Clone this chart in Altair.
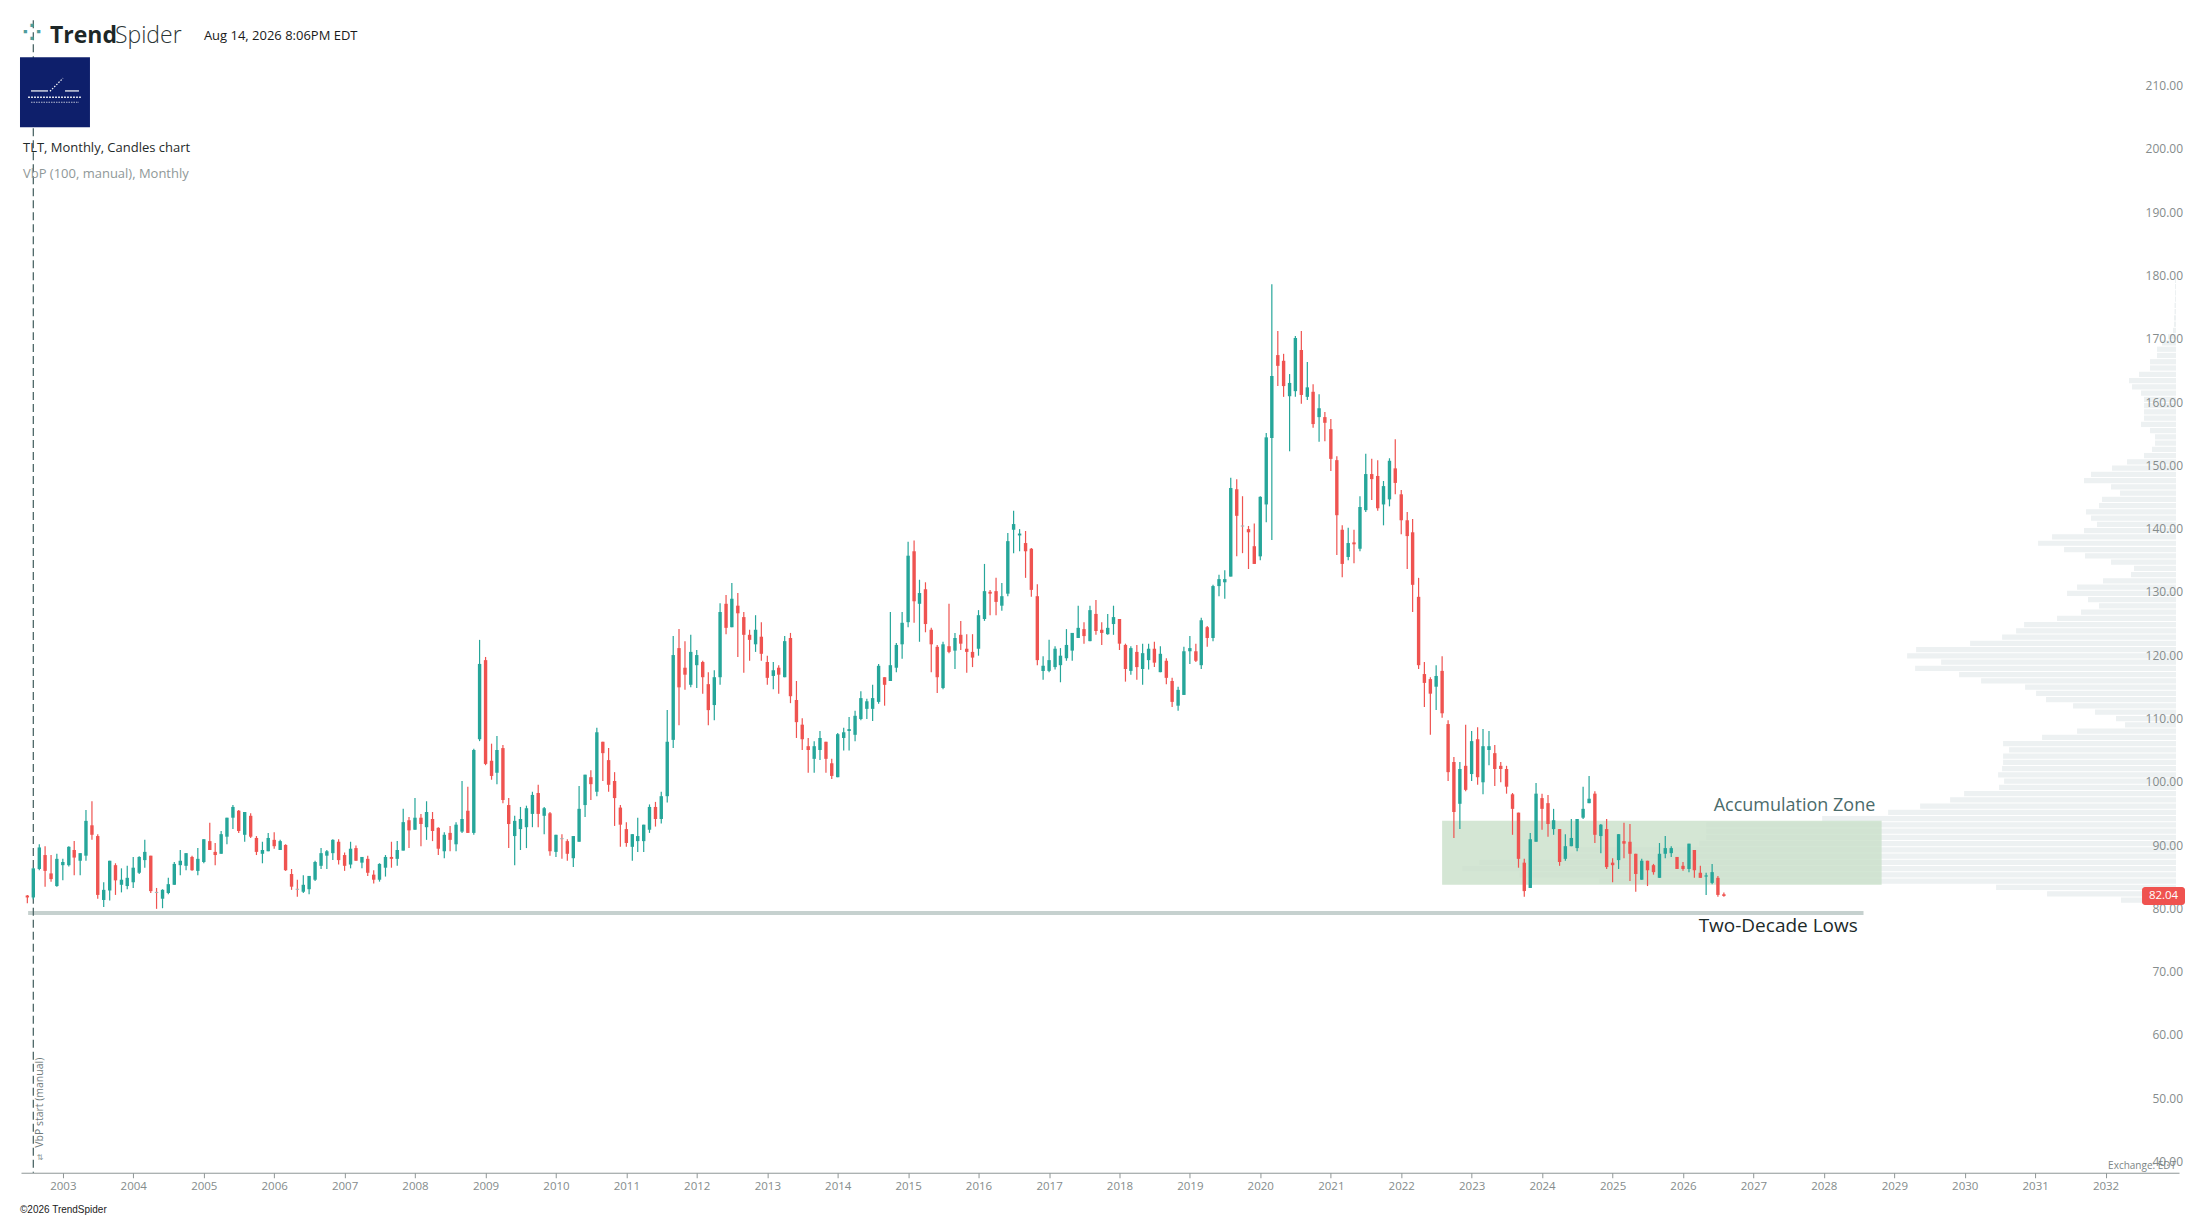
import altair as alt
import pandas as pd

# ---------------- data ----------------
start_month = "2002-07-01"   # first monthly candle (TLT, monthly)

opens = [
    82.1, 81.8, 86.3, 88.5, 85.6, 83.6,
    86.9, 86.9, 89.3, 87.6, 88.4, 93.2, 91.5, 81.4, 82.9, 86.9, 83.8, 83.6,
    84.2, 85.7, 87.7, 88.4, 82.5, 81.6, 82.5, 83.8, 86.9, 86.8, 88.2, 86.0,
    87.4, 90.7, 89.0, 88.7, 91.4, 94.4, 95.5, 91.7, 94.7, 91.2, 88.7, 89.1,
    90.9, 89.3, 90.1, 85.5, 83.0, 82.7, 83.1, 84.6, 86.8, 88.4, 88.8, 90.6,
    88.5, 87.0, 89.6, 87.3, 87.9, 85.4, 84.6, 86.5, 88.2, 87.9, 89.2, 94.0,
    92.5, 94.4, 92.9, 94.2, 92.8, 89.1, 92.0, 90.2, 92.2, 95.5, 92.0, 106.8,
    119.3, 103.4, 101.5, 105.4, 96.4, 91.5, 92.6, 92.9, 95.0, 98.3, 94.7, 95.1,
    89.0, 91.0, 90.7, 88.0, 90.6, 96.4, 100.8, 98.5, 106.4, 103.5, 100.2, 96.0,
    92.6, 89.8, 90.7, 90.7, 92.5, 96.1, 94.2, 97.8, 106.7, 121.2, 118.1, 115.4,
    118.5, 119.0, 115.5, 112.2, 116.6, 128.2, 124.5, 127.9, 126.1, 123.3, 121.8, 123.0,
    119.0, 116.8, 118.1, 116.6, 122.8, 113.0, 109.1, 105.7, 103.7, 105.1, 106.4, 103.0,
    100.8, 107.0, 108.1, 107.5, 110.0, 111.6, 111.6, 112.7, 116.6, 116.0, 118.1, 121.8,
    125.3, 136.5, 128.2, 130.5, 124.1, 121.4, 114.9, 121.5, 120.8, 123.3, 121.1, 120.6,
    121.1, 125.8, 130.1, 130.2, 127.9, 129.8, 139.9, 139.0, 137.8, 136.9, 129.4, 117.6,
    117.6, 118.2, 118.5, 119.6, 120.8, 122.8, 124.2, 122.3, 126.6, 124.1, 123.4, 125.0,
    125.8, 121.7, 117.6, 120.6, 117.9, 119.3, 121.1, 117.4, 119.2, 116.0, 112.1, 113.8,
    120.7, 120.7, 118.5, 124.5, 122.8, 131.0, 131.6, 132.5, 146.3, 140.4, 140.0, 137.3,
    135.7, 143.9, 154.4, 167.5, 166.6, 161.0, 161.8, 168.3, 160.9, 161.7, 157.7, 157.7,
    155.8, 150.9, 139.9, 135.6, 137.9, 136.9, 143.0, 148.7, 148.4, 143.9, 144.7, 149.6,
    145.5, 141.4, 139.5, 129.3, 117.1, 116.3, 115.1, 117.6, 109.2, 103.2, 96.6, 102.6,
    101.3, 106.8, 100.0, 105.1, 104.6, 102.6, 102.1, 98.1, 95.2, 87.3, 83.3, 90.6,
    97.5, 96.7, 92.6, 92.6, 87.9, 89.9, 89.6, 94.4, 96.7, 98.2, 91.5, 92.6,
    87.3, 87.7, 90.7, 90.6, 88.7, 84.6, 87.6, 86.9, 84.9, 88.7, 88.8, 88.2,
    86.8, 86.3, 89.3, 85.7, 85.1, 84.1, 84.9, 82.3,
]
highs = [
    82.2, 86.5, 90.2, 89.9, 88.5, 88.7,
    87.9, 89.9, 90.7, 88.8, 95.6, 97.0, 91.8, 84.2, 87.6, 87.2, 86.4, 86.8,
    88.2, 88.3, 90.9, 88.4, 83.3, 83.1, 84.9, 87.4, 89.3, 88.8, 88.4, 89.6,
    91.0, 93.6, 90.4, 92.3, 94.4, 96.4, 95.6, 95.3, 95.1, 91.5, 90.6, 92.0,
    92.1, 90.9, 90.2, 86.3, 84.6, 85.3, 85.2, 87.6, 89.6, 89.3, 91.0, 91.0,
    88.9, 90.6, 90.0, 88.2, 88.4, 86.1, 87.2, 88.5, 90.6, 90.7, 95.8, 94.5,
    97.5, 95.0, 97.0, 95.3, 92.9, 92.1, 93.1, 93.7, 100.2, 99.3, 105.3, 122.5,
    119.8, 106.1, 107.3, 105.9, 97.5, 94.7, 96.1, 96.3, 98.5, 99.6, 96.1, 95.3,
    91.7, 91.8, 91.0, 91.5, 99.4, 101.2, 101.9, 108.6, 106.4, 105.4, 101.6, 96.4,
    93.7, 91.8, 94.4, 93.3, 96.5, 96.9, 98.5, 111.4, 123.1, 124.2, 122.3, 123.3,
    120.9, 119.2, 117.4, 117.7, 128.3, 129.6, 131.5, 129.9, 126.9, 124.1, 126.4, 125.3,
    120.0, 119.0, 118.5, 123.1, 123.6, 116.0, 110.1, 107.0, 106.5, 108.1, 106.4, 103.7,
    107.8, 108.6, 110.3, 111.3, 114.4, 113.2, 115.4, 118.7, 116.6, 126.9, 122.0, 126.9,
    138.0, 138.2, 132.0, 131.6, 124.4, 121.7, 122.2, 128.2, 123.6, 125.5, 123.4, 123.4,
    127.2, 134.5, 130.4, 132.3, 131.5, 139.4, 142.9, 140.0, 139.7, 137.0, 131.3, 119.9,
    122.5, 121.5, 121.2, 124.2, 123.6, 127.9, 125.3, 127.9, 128.8, 125.3, 126.6, 127.9,
    125.8, 121.9, 121.5, 121.7, 121.9, 121.9, 122.2, 121.5, 119.6, 116.5, 115.1, 121.4,
    123.1, 121.9, 126.0, 124.7, 131.2, 132.8, 133.5, 148.1, 147.9, 145.2, 140.5, 140.9,
    145.2, 155.2, 178.7, 171.3, 167.7, 164.5, 170.5, 171.3, 166.4, 162.9, 161.3, 158.5,
    157.4, 151.5, 140.6, 140.2, 139.9, 145.2, 151.9, 151.1, 150.9, 147.6, 151.2, 154.2,
    146.2, 142.7, 141.6, 132.3, 119.0, 116.6, 118.5, 119.9, 109.8, 104.0, 103.2, 109.1,
    108.1, 108.7, 108.4, 108.1, 105.9, 103.2, 102.6, 98.3, 95.2, 87.9, 92.0, 99.9,
    98.2, 98.0, 95.8, 92.6, 91.8, 94.2, 94.2, 99.3, 101.0, 98.6, 93.4, 94.2,
    88.0, 91.8, 93.6, 93.4, 88.7, 87.9, 87.6, 87.1, 90.4, 91.5, 89.9, 88.2,
    87.4, 90.3, 89.3, 86.8, 85.7, 87.1, 85.2, 82.6,
]
lows = [
    80.9, 81.5, 86.1, 83.5, 84.3, 83.5,
    84.5, 86.7, 85.3, 85.3, 87.6, 90.9, 81.6, 80.3, 81.3, 82.2, 82.6, 83.1,
    83.3, 85.5, 86.5, 82.5, 80.0, 80.1, 82.3, 83.8, 85.3, 86.1, 86.0, 85.3,
    87.2, 89.3, 86.9, 88.7, 90.2, 92.6, 92.0, 90.6, 91.2, 88.5, 87.2, 89.1,
    89.5, 89.3, 86.0, 83.0, 81.9, 82.5, 82.3, 84.4, 86.3, 86.3, 87.7, 87.0,
    86.0, 86.4, 87.6, 86.4, 85.2, 84.0, 84.3, 85.1, 86.5, 86.8, 89.2, 89.6,
    92.5, 89.9, 90.9, 90.7, 88.5, 88.0, 89.1, 89.1, 92.0, 92.0, 91.7, 106.5,
    102.7, 100.4, 99.7, 96.7, 89.6, 86.9, 89.3, 89.6, 92.9, 92.9, 91.8, 88.4,
    88.2, 87.9, 87.6, 86.6, 90.6, 94.5, 97.2, 97.8, 100.2, 98.5, 93.1, 89.8,
    89.8, 87.6, 89.0, 89.0, 92.0, 93.0, 93.5, 96.8, 105.4, 109.0, 114.6, 115.0,
    114.9, 114.0, 109.0, 109.8, 115.4, 123.4, 124.5, 119.8, 117.3, 119.2, 120.6, 119.2,
    115.4, 114.7, 114.0, 116.6, 112.5, 107.0, 105.1, 101.5, 101.5, 103.5, 101.5, 100.5,
    100.8, 105.0, 105.0, 106.5, 109.8, 110.0, 109.7, 112.4, 112.1, 116.0, 117.4, 119.5,
    124.5, 125.2, 122.2, 123.7, 117.4, 114.1, 114.7, 120.4, 117.9, 120.9, 117.3, 118.2,
    120.0, 125.5, 126.4, 126.4, 127.1, 129.4, 136.2, 136.5, 132.3, 129.3, 118.5, 116.2,
    117.4, 117.8, 115.8, 119.2, 119.2, 122.8, 121.9, 122.3, 123.3, 121.7, 123.3, 123.3,
    120.9, 115.9, 117.0, 116.2, 115.4, 117.8, 118.2, 117.4, 115.5, 111.9, 111.3, 113.8,
    118.7, 119.0, 117.9, 121.4, 122.3, 129.4, 129.0, 132.5, 135.7, 136.2, 133.7, 134.5,
    135.1, 141.1, 138.3, 162.6, 160.9, 152.3, 160.9, 159.8, 160.4, 156.0, 153.8, 153.9,
    149.2, 135.9, 132.4, 135.1, 134.6, 136.5, 142.7, 144.6, 142.9, 140.6, 143.6, 145.5,
    139.2, 133.7, 126.9, 117.9, 111.9, 107.5, 111.4, 110.2, 100.2, 91.2, 92.6, 98.6,
    100.2, 99.6, 98.1, 102.7, 99.4, 100.0, 98.2, 91.7, 86.5, 81.9, 83.3, 90.6,
    92.5, 91.4, 91.7, 86.8, 87.6, 89.9, 89.1, 94.2, 96.7, 90.4, 88.8, 86.3,
    84.2, 86.3, 88.0, 84.4, 82.7, 84.6, 83.6, 85.4, 84.9, 88.0, 88.2, 86.3,
    86.0, 85.8, 84.9, 84.9, 82.2, 83.9, 81.9, 81.9,
]
closes = [
    81.8, 86.4, 89.7, 86.0, 84.7, 87.9,
    87.4, 89.8, 88.1, 88.8, 93.9, 91.7, 82.2, 83.0, 87.6, 84.5, 84.6, 84.9,
    86.5, 88.2, 89.0, 82.8, 82.5, 83.0, 83.9, 87.1, 87.6, 88.8, 86.1, 87.9,
    91.0, 89.3, 88.5, 91.8, 94.4, 96.1, 92.3, 95.3, 91.4, 89.0, 89.3, 91.2,
    89.9, 90.7, 86.1, 83.5, 83.0, 83.8, 85.2, 87.4, 88.8, 89.1, 90.9, 87.7,
    86.8, 89.5, 87.6, 88.2, 85.7, 84.6, 87.1, 88.2, 87.9, 89.3, 93.7, 92.4,
    94.4, 93.4, 95.3, 92.3, 89.5, 91.7, 90.9, 93.3, 94.2, 92.0, 105.1, 118.7,
    102.9, 101.0, 105.1, 97.2, 93.4, 93.9, 94.2, 95.9, 98.0, 95.0, 95.9, 89.1,
    91.7, 91.0, 88.7, 91.5, 95.8, 101.2, 99.7, 107.9, 104.6, 99.6, 97.5, 93.3,
    90.4, 91.8, 91.5, 93.3, 96.1, 94.2, 97.8, 106.4, 120.1, 115.0, 117.0, 120.6,
    120.1, 116.6, 111.4, 116.6, 126.9, 124.4, 129.0, 126.7, 123.3, 122.5, 124.1, 120.3,
    116.5, 117.7, 117.0, 122.3, 113.6, 109.5, 106.8, 105.1, 105.7, 107.0, 103.7, 101.0,
    107.6, 107.9, 108.4, 110.5, 113.3, 112.8, 113.3, 118.4, 115.4, 118.5, 121.7, 125.2,
    135.8, 128.6, 129.9, 125.0, 121.8, 116.6, 121.8, 120.6, 122.8, 121.9, 120.6, 119.7,
    126.4, 130.2, 129.8, 128.5, 129.4, 138.1, 140.8, 139.3, 136.5, 130.4, 119.3, 118.4,
    119.3, 121.1, 120.0, 121.7, 123.6, 124.4, 123.1, 127.2, 123.9, 123.6, 124.4, 126.1,
    121.9, 117.9, 121.2, 118.2, 120.4, 121.1, 118.9, 120.3, 116.5, 112.7, 114.6, 120.7,
    121.2, 119.2, 125.6, 122.8, 131.0, 132.1, 132.1, 146.5, 142.1, 140.4, 139.5, 134.5,
    145.1, 154.5, 164.2, 165.8, 162.6, 163.1, 170.2, 161.2, 162.4, 156.6, 159.1, 156.8,
    151.1, 142.2, 134.5, 137.8, 137.6, 143.5, 148.7, 147.9, 143.3, 146.8, 150.8, 147.3,
    141.4, 138.9, 131.2, 118.5, 115.7, 114.0, 116.8, 110.9, 101.6, 95.3, 102.1, 98.8,
    106.5, 100.8, 105.7, 105.7, 102.1, 102.1, 99.3, 95.8, 87.9, 82.8, 91.0, 98.2,
    95.8, 93.4, 94.0, 87.4, 89.9, 91.2, 94.2, 95.8, 97.4, 91.7, 93.3, 86.6,
    86.9, 91.8, 90.3, 88.7, 85.5, 87.6, 86.1, 85.8, 88.7, 89.6, 89.6, 86.3,
    86.3, 90.3, 86.1, 84.9, 85.2, 85.8, 82.2, 82.04,
]

# Volume-by-price profile: 100 rows, lowest price row first
vbp_low = 80.9
vbp_step = 0.989
vbp_volume = [
    55, 129, 180, 577, 657, 714, 697, 617, 600, 477,
    470, 470, 470, 354, 288, 256, 226, 212, 177, 172,
    178, 174, 173, 173, 167, 173, 134, 99, 51, 60,
    81, 103, 130, 140, 151, 195, 217, 261, 235, 269,
    260, 206, 174, 160, 152, 119, 95, 77, 88, 109,
    99, 73, 45, 42, 65, 91, 112, 138, 124, 92,
    79, 85, 90, 77, 74, 56, 65, 92, 85, 64,
    49, 32, 24, 21, 21, 26, 35, 32, 32, 32,
    32, 35, 44, 47, 37, 26, 26, 19, 19, 14,
    8, 3, 2, 2, 1.5, 1.5, 1, 1, 1, 1,
]

y_ticks = list(range(40, 220, 10))
year_ticks = list(range(2003, 2033))

zone_start, zone_end, zone_low, zone_high = "2022-08-01", "2028-10-27", 83.8, 93.9
lows_start, lows_end, lows_price = "2002-07-05", "2028-07-25", 79.35
vbp_start = "2002-08-01"

header_title = "TLT, Monthly, Candles chart"
header_sub = "VbP (100, manual), Monthly"
stamp = "Aug 14, 2026 8:06PM EDT"

# ---------------- chart ----------------
W, H = 2159, 1165
GREEN, RED, DOJI = "#26a69a", "#ef5350", "#a9b3b3"
FONT = "Open Sans"
AXC = "#858c8c"


def dt(s):
    y, m, d = (int(p) for p in s.split("-"))
    return alt.DateTime(year=y, month=m, date=d, utc=True)


x_scale = alt.Scale(type="utc", domain=[dt("2002-06-24"), dt("2032-12-21")])
x_axis = alt.Axis(values=[dt(f"{y}-01-01") for y in year_ticks], format="%Y", formatType="utc",
                  grid=False, domainColor="#8f9696", domainWidth=1, tickColor="#8f9696",
                  tickSize=5, tickWidth=1, labelColor=AXC, labelFont=FONT, labelFontSize=11.5,
                  labelPadding=3, labelFlush=False)
y_scale = alt.Scale(domain=[38.3, 222.3], nice=False, zero=False)


def X(f):
    return alt.X(f, type="temporal", scale=x_scale, axis=x_axis, title=None)


def Y(f):
    return alt.Y(f, type="quantitative", scale=y_scale, axis=None)


one = alt.Data(values=[{"k": 1}])

dates = pd.date_range(start_month, periods=len(opens), freq="MS").strftime("%Y-%m-%d")
candles = pd.DataFrame(dict(date=dates, open=opens, high=highs, low=lows, close=closes))

vbp = pd.DataFrame({"vol": vbp_volume})
vbp["lo"] = [vbp_low + i * vbp_step + 0.08 for i in range(len(vbp_volume))]
vbp["hi"] = vbp["lo"] + vbp_step - 0.16

vbp_bars = alt.Chart(vbp).mark_rect(color="#edf1f2").encode(
    x=alt.X("vol:Q", scale=alt.Scale(domain=[0, 2156], range=[2156, 0]), axis=None),
    x2=alt.value(2156),
    y=Y("lo"), y2=alt.Y2("hi"),
)

zone = alt.Chart(pd.DataFrame([dict(start=zone_start, end=zone_end, low=zone_low, high=zone_high)])
                 ).mark_rect(color="#c9e0c9", opacity=0.8).encode(
    x=X("start"), x2=alt.X2("end"), y=Y("low"), y2=alt.Y2("high"))

lows_rule = alt.Chart(pd.DataFrame([dict(start=lows_start, end=lows_end, price=lows_price)])
                      ).mark_rule(color="#c6d1cf", strokeWidth=4).encode(
    x=X("start"), x2=alt.X2("end"), y=Y("price"))

vbp_line = alt.Chart(pd.DataFrame([{"date": vbp_start}])).mark_rule(
    color="#4e6767", strokeWidth=1.3, strokeDash=[8, 4]).encode(
    x=X("date"), y=alt.value(12), y2=alt.value(H))

base = alt.Chart(candles).transform_calculate(
    body_lo="min(datum.open, datum.close)",
    body_hi="max(max(datum.open, datum.close), min(datum.open, datum.close) + 0.18)",
    body_color=f"datum.close > datum.open ? '{GREEN}' : (datum.close < datum.open ? '{RED}' : '{DOJI}')",
    wick_color=f"datum.close > datum.open ? '{GREEN}' : '{RED}'",
)
wicks = base.mark_rule(strokeWidth=1.2).encode(
    x=X("date"), y=Y("low"), y2=alt.Y2("high"), color=alt.Color("wick_color:N", scale=None))
bodies = base.mark_bar(size=3.4).encode(
    x=X("date"), y=Y("body_lo"), y2=alt.Y2("body_hi"), color=alt.Color("body_color:N", scale=None))

# price labels on the right, drawn as text on the price scale (so the last-price tag can cover one)
y_labels = alt.Chart(pd.DataFrame({"v": y_ticks})).transform_calculate(
    lbl="format(datum.v, '.2f')").mark_text(
    align="right", baseline="middle", font=FONT, fontSize=12, color=AXC).encode(
    x=alt.value(2163), y=Y("v"), text="lbl:N")

acc_text = alt.Chart(pd.DataFrame([{"date": "2028-09-24", "price": 95.45, "label": "Accumulation Zone"}])
                     ).mark_text(align="right", baseline="alphabetic", font=FONT, fontSize=18,
                                 color="#4b6b6b").encode(x=X("date"), y=Y("price"), text="label:N")
lows_text = alt.Chart(pd.DataFrame([{"date": "2028-06-25", "price": 76.35, "label": "Two-Decade Lows"}])
                      ).mark_text(align="right", baseline="alphabetic", font=FONT, fontSize=19,
                                  color="#1c2a2a").encode(x=X("date"), y=Y("price"), text="label:N")

tag_df = pd.DataFrame([{"price": closes[-1]}])
tag_rect = alt.Chart(tag_df).transform_calculate(
    top="datum.price + 1.42", bot="datum.price - 1.42").mark_rect(
    color=RED, cornerRadius=3).encode(
    x=alt.value(2122), x2=alt.value(2165), y=Y("top:Q"), y2=alt.Y2("bot"))
tag_text = alt.Chart(tag_df).transform_calculate(lbl="format(datum.price, '.2f')").mark_text(
    align="center", baseline="middle", font=FONT, fontSize=11.5, color="white").encode(
    x=alt.value(2143.5), y=Y("price"), text="lbl:N")


def label(txt, x, y, **kw):
    return alt.Chart(one).mark_text(**kw).encode(x=alt.value(x), y=alt.value(y), text=alt.value(txt))


def wrule(x1, x2, y1, y2, **kw):
    return alt.Chart(one).mark_rule(color="white", **kw).encode(
        x=alt.value(x1), x2=alt.value(x2), y=alt.value(y1), y2=alt.value(y2))


header = [
    label("\u2058", 11, 26, align="center", baseline="middle", fontSize=34, color="#4e9d9d", font="DejaVu Sans"),
    label("Trend", 29, 35, align="left", baseline="alphabetic", font=FONT, fontSize=23,
          fontWeight="bold", color="#1d2727"),
    label("Spider", 94, 35, align="left", baseline="alphabetic", font=FONT, fontSize=23,
          fontWeight=300, color="#2b3535"),
    label(stamp, 183, 32, align="left", baseline="alphabetic", font=FONT, fontSize=13, color="#1a1a1a"),
    alt.Chart(one).mark_rect(color="#0e1f6b").encode(
        x=alt.value(-1), x2=alt.value(69), y=alt.value(49), y2=alt.value(119)),
    wrule(10, 27, 82.7, 82.7, strokeWidth=1.2),
    wrule(44, 58, 82.7, 82.7, strokeWidth=1.2),
    wrule(29, 42, 83, 70, strokeWidth=1.2, strokeDash=[1.5, 1.5]),
    wrule(7, 61, 89, 89, strokeWidth=1.4, strokeDash=[2, 1], opacity=0.85),
    wrule(10, 58, 94, 94, strokeWidth=1.2, strokeDash=[1.5, 1], opacity=0.7),
    label(header_title, 2, 144, align="left", baseline="alphabetic", font=FONT, fontSize=13, color="#1f2a2a"),
    label(header_sub, 2, 170, align="left", baseline="alphabetic", font=FONT, fontSize=13, color="#8f9898"),
    label("VbP start (manual)", 19, 1140, align="left", baseline="middle", angle=270,
          font=FONT, fontSize=10.5, color="#6f7b7b"),
    label("\u21c5", 19, 1150, align="center", baseline="middle", fontSize=8, color="#8a9595", font="DejaVu Sans"),
    label("\u00a92026 TrendSpider", -1, 1205, align="left", baseline="alphabetic",
          font="Liberation Sans", fontSize=10, color="#222222"),
    label("Exchange: EDT", 2156, 1161, align="right", baseline="alphabetic", font=FONT,
          fontSize=10, color="#7b8585"),
]

main = alt.layer(zone, lows_rule, vbp_line, wicks, bodies, y_labels, acc_text, lows_text,
                 tag_rect, tag_text, *header)

chart = alt.layer(vbp_bars, main).resolve_scale(x="independent").properties(
    width=W, height=H,
    padding={"left": 13, "top": 0, "right": 20, "bottom": 44},
    autosize=alt.AutoSizeParams(type="none"),
    background="white",
).configure_view(strokeWidth=0)

chart.save("out.html", embed_options={"renderer": "svg", "actions": False})
